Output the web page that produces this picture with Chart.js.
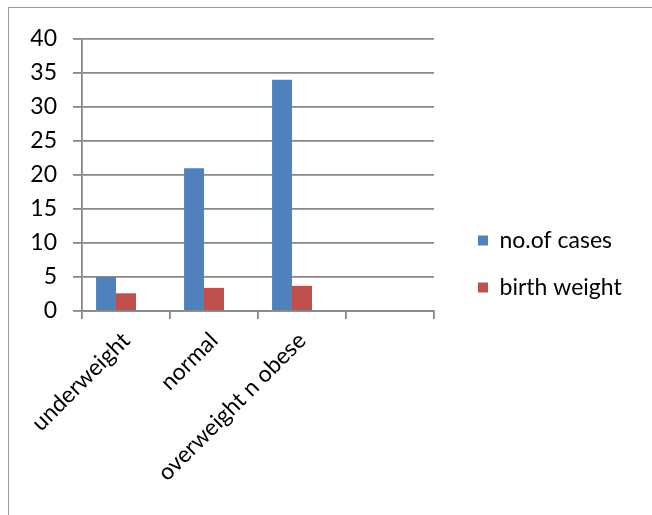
<!DOCTYPE html>
<html>
<head>
<meta charset="utf-8">
<script src="https://cdn.jsdelivr.net/npm/chart.js@4.4.1/dist/chart.umd.min.js"></script>
<style>
  html, body { margin: 0; padding: 0; background: #fff; }
  #wrap { position: relative; width: 652px; height: 515px; overflow: hidden; }
  #frame { position: absolute; left: 8px; top: 7px; width: 700px; height: 600px;
           border-left: 1px solid #9a9a9a; border-top: 1px solid #9a9a9a; }
  #chart { position: absolute; left: 0; top: 0; }
</style>
</head>
<body>
<div id="wrap">
  <div id="frame"></div>
  <canvas id="chart" width="652" height="515"></canvas>
</div>
<script>
const categories = ['underweight', 'normal', 'overweight n obese', ''];
const casesValues = [5, 21, 34, null];
const birthWeightValues = [2.6, 3.4, 3.7, null];
const emptySeries = [null, null, null, null];
const yTicks = [0, 5, 10, 15, 20, 25, 30, 35, 40];

document.addEventListener('DOMContentLoaded', function() {
    const ctx = document.getElementById('chart').getContext('2d');
    const font = { family: 'Lato, "Open Sans", sans-serif', size: 23 };

    // widen the legend box so the plot stops where the reference does,
    // then nudge the legend items right/up
    const legendPlacement = {
        id: 'legendPlacement',
        beforeLayout(chart) {
            const legend = chart.legend;
            if (legend && !legend._patched) {
                const fit = legend.fit;
                legend.fit = function() {
                    fit.call(this);
                    this.width = 218;
                };
                legend._patched = true;
            }
        },
        beforeDraw(chart) {
            const legend = chart.legend;
            legend.left += 20; legend.right += 20;
            legend.top -= 13; legend.bottom -= 13;
        }
    };

    new Chart(ctx, {
        type: 'bar',
        data: {
            labels: categories,
            datasets: [
                { label: 'no.of cases', data: casesValues, backgroundColor: '#4F81BD' },
                { label: 'birth weight', data: birthWeightValues, backgroundColor: '#C0504D' },
                { label: 'series 3', data: emptySeries, backgroundColor: '#9BBB59' }
            ]
        },
        options: {
            responsive: false,
            animation: false,
            devicePixelRatio: 1,
            layout: { padding: { top: 39, left: 0, right: 0, bottom: 0 } },
            datasets: { bar: { categoryPercentage: 0.68, barPercentage: 1.0 } },
            scales: {
                x: {
                    grid: { display: true, drawOnChartArea: false, drawTicks: true, tickLength: 8, color: '#888', lineWidth: 1.8, offset: true },
                    border: { color: '#888', width: 1.8 },
                    ticks: { color: '#000', font: font, maxRotation: 45, minRotation: 45, padding: 8 },
                    afterFit: function(scale) { scale.height = 204; }
                },
                y: {
                    min: 0, max: 40,
                    afterBuildTicks: function(scale) { scale.ticks = yTicks.map(v => ({ value: v })); },
                    grid: { color: '#888', lineWidth: 1.8, tickLength: 9 },
                    border: { color: '#888', width: 1.8 },
                    ticks: { color: '#000', font: font, padding: 16 },
                    afterFit: function(scale) { scale.width = 82; }
                }
            },
            plugins: {
                tooltip: { enabled: false },
                legend: {
                    position: 'right',
                    align: 'center',
                    labels: {
                        color: '#000',
                        font: font,
                        boxWidth: 10,
                        boxHeight: 10,
                        padding: 24,
                        filter: item => item.datasetIndex < 2
                    }
                }
            }
        },
        plugins: [legendPlacement]
    });
});
</script>
</body>
</html>
